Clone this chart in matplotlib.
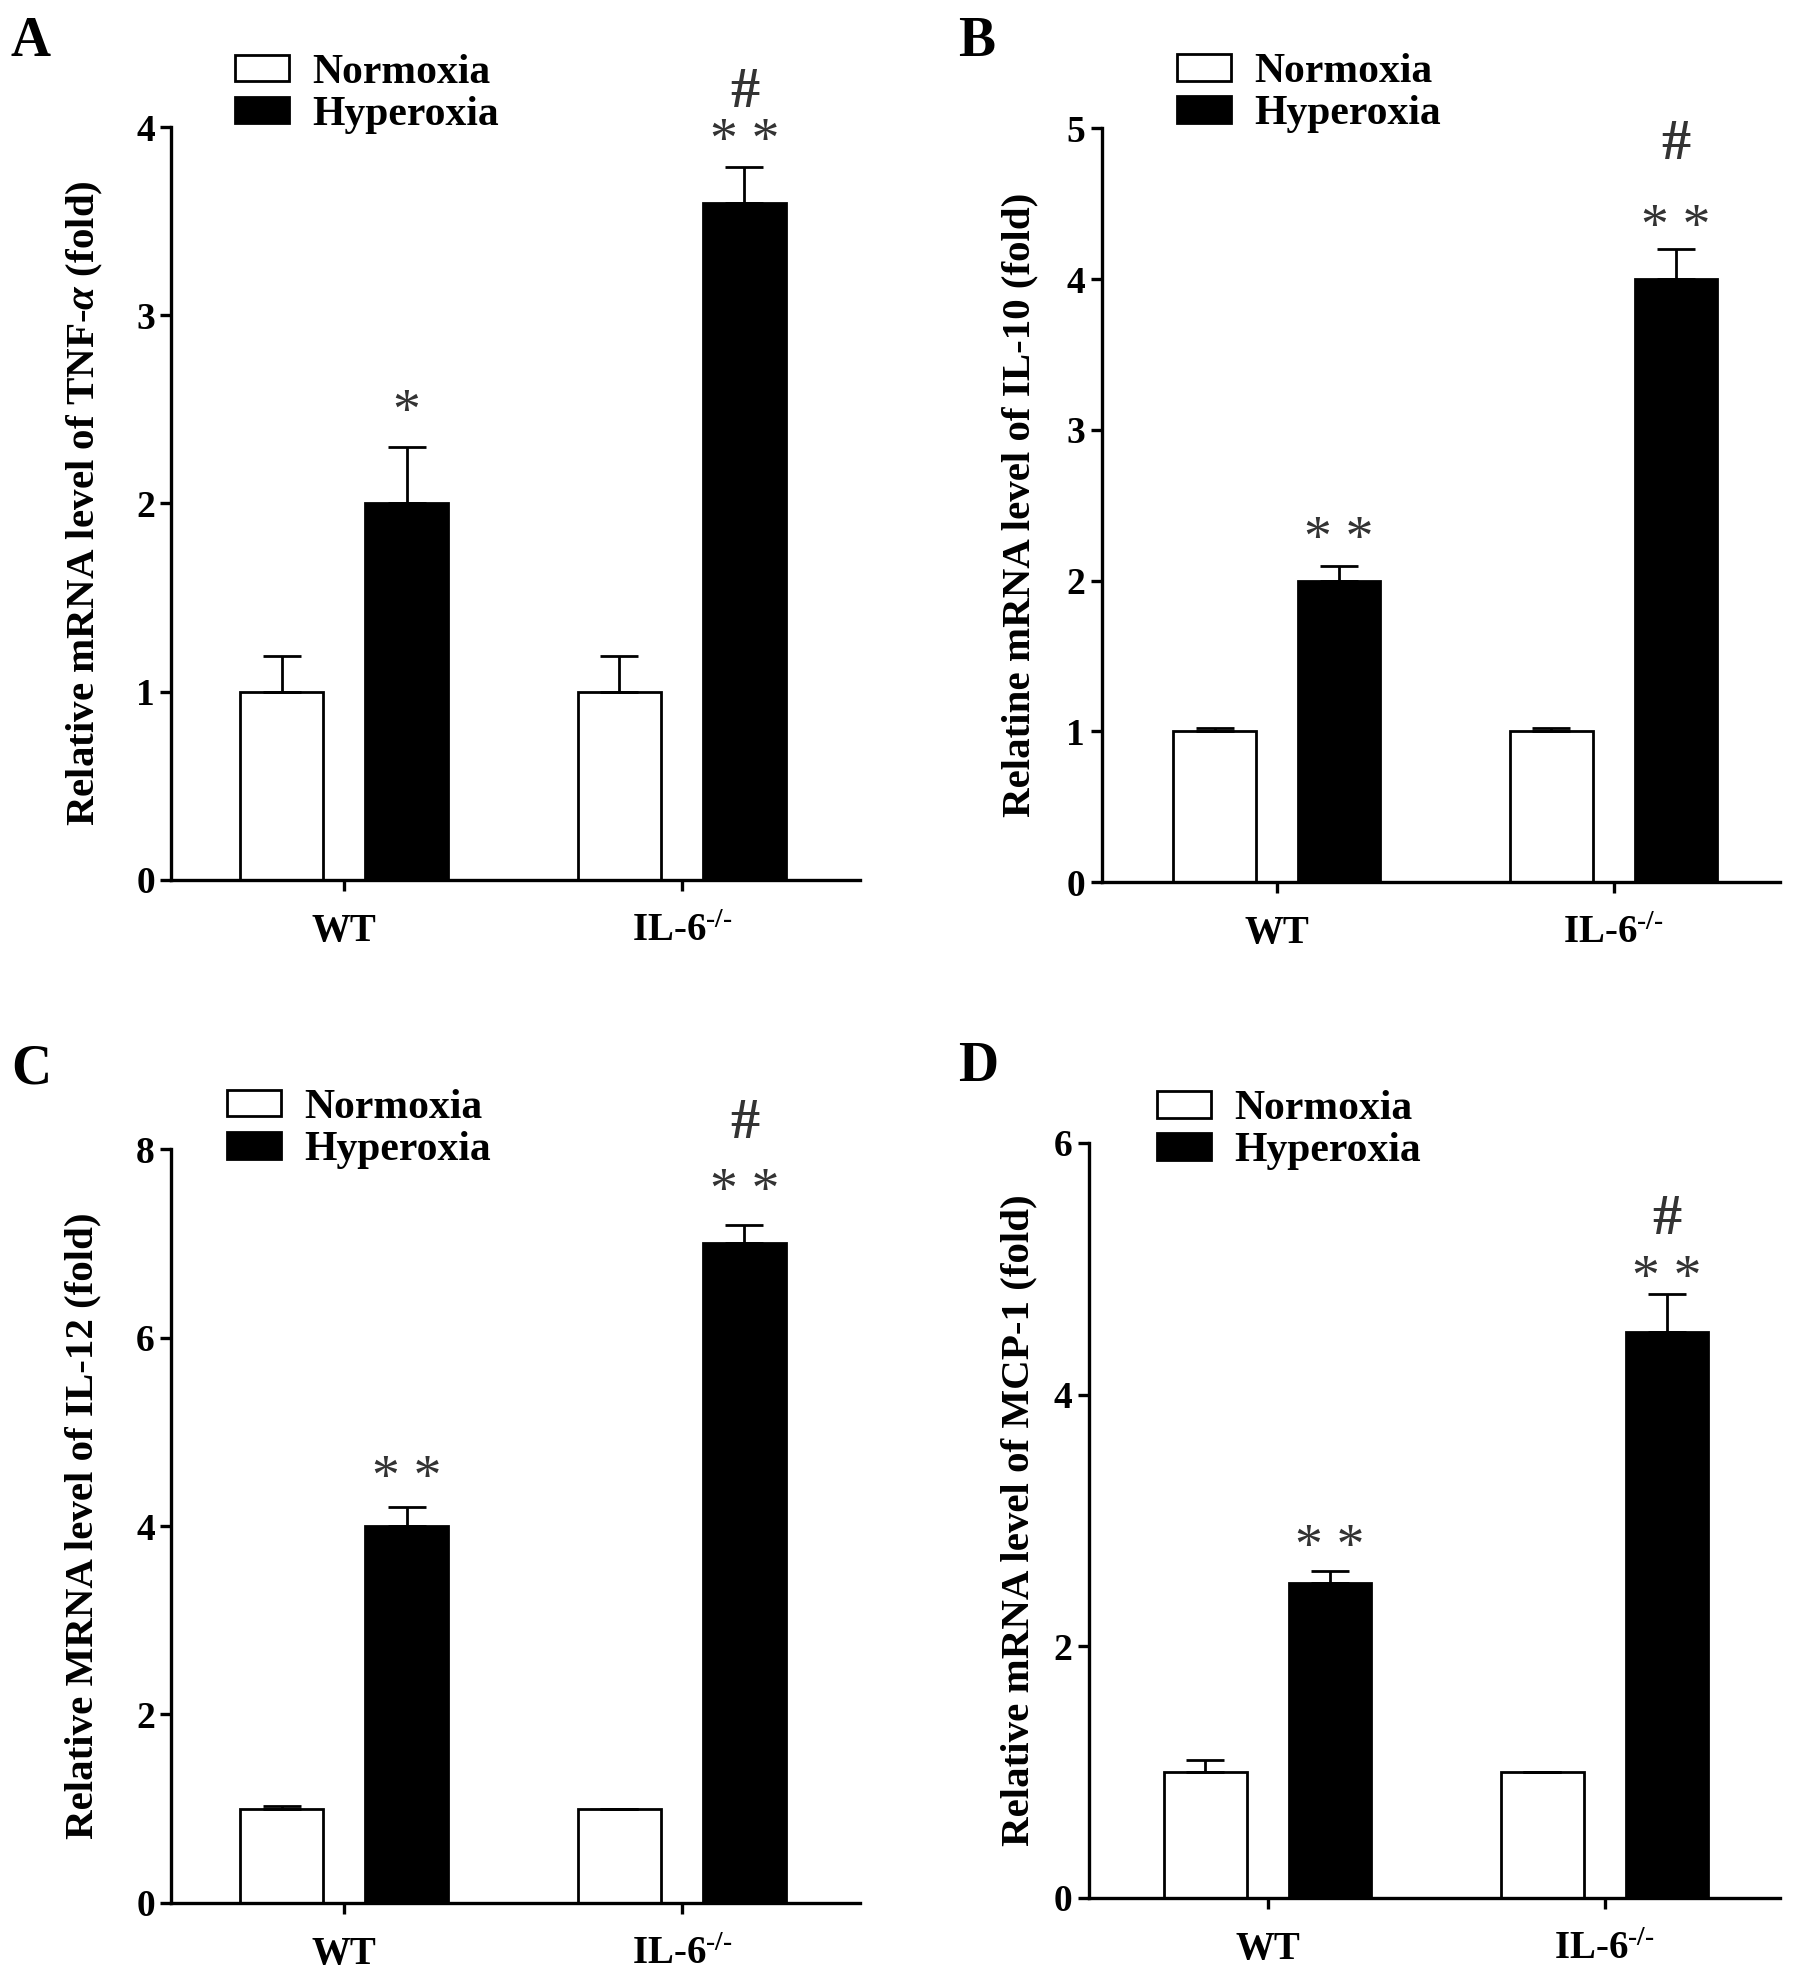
import numpy as np
import matplotlib
matplotlib.use('Agg')
import matplotlib.pyplot as plt
from matplotlib.patches import Patch

plt.rcParams['font.family'] = ['Liberation Serif', 'DejaVu Serif']
plt.rcParams['font.weight'] = 'bold'
plt.rcParams['mathtext.fontset'] = 'custom'
plt.rcParams['mathtext.rm'] = 'Liberation Serif'
plt.rcParams['mathtext.it'] = 'Liberation Serif:italic'
plt.rcParams['mathtext.bf'] = 'Liberation Serif:bold'

# ---------------- data ----------------
groups = ['WT', 'IL-6$^{\\rm \u2010/\u2010}$']
series = ['Normoxia', 'Hyperoxia']

tnf_norm = [1.0, 1.0]
tnf_norm_err = [0.19, 0.19]
tnf_hyp = [2.0, 3.6]
tnf_hyp_err = [0.30, 0.19]

il10_norm = [1.0, 1.0]
il10_norm_err = [0.02, 0.02]
il10_hyp = [2.0, 4.0]
il10_hyp_err = [0.10, 0.20]

il12_norm = [1.0, 1.0]
il12_norm_err = [0.03, 0.0]
il12_hyp = [4.0, 7.0]
il12_hyp_err = [0.20, 0.20]

mcp_norm = [1.0, 1.0]
mcp_norm_err = [0.10, 0.0]
mcp_hyp = [2.5, 4.5]
mcp_hyp_err = [0.10, 0.30]

# significance marks for Hyperoxia bars: (text, y value) lists per group
tnf_marks = [[('*', 2.40)], [('* *', 3.84), ('#', 4.11)]]
il10_marks = [[('* *', 2.17)], [('* *', 4.24), ('#', 4.80)]]
il12_marks = [[('* *', 4.34)], [('* *', 7.39), ('#', 8.12)]]
mcp_marks = [[('* *', 2.66)], [('* *', 4.80), ('#', 5.28)]]

ylabels = [r'Relative mRNA level of TNF-$\it{\alpha}$ (fold)',
           'Relatine mRNA level of IL-10 (fold)',
           'Relative MRNA level of IL-12 (fold)',
           'Relative mRNA level of MCP-1 (fold)']
yticks_list = [[0, 1, 2, 3, 4], [0, 1, 2, 3, 4, 5], [0, 2, 4, 6, 8], [0, 2, 4, 6]]
panel_letters = ['A', 'B', 'C', 'D']

# ---------------- layout ----------------
W, H = 1795, 1976
fig = plt.figure(figsize=(W / 100, H / 100), dpi=100)

rects = [
    [0.0955, 0.5548, 0.3834, 0.3808],
    [0.6138, 0.5536, 0.3778, 0.3814],
    [0.0955, 0.0370, 0.3834, 0.3814],
    [0.6067, 0.0395, 0.3849, 0.3821],
]
xlims = [(-0.511, 1.526), (-0.52, 1.494), (-0.511, 1.526), (-0.53, 1.52)]
legend_anchor = [(0.092, 1.098), (0.111, 1.100), (0.081, 1.080), (0.0985, 1.070)]
ylabel_x = [-0.097, -0.093, -0.102, -0.075]
letter_pos = [(0.006, 0.992), (0.534, 0.992), (0.006, 0.472), (0.534, 0.473)]

datasets = [
    (tnf_norm, tnf_norm_err, tnf_hyp, tnf_hyp_err, tnf_marks),
    (il10_norm, il10_norm_err, il10_hyp, il10_hyp_err, il10_marks),
    (il12_norm, il12_norm_err, il12_hyp, il12_hyp_err, il12_marks),
    (mcp_norm, mcp_norm_err, mcp_hyp, mcp_hyp_err, mcp_marks),
]

bw = 0.245
off = 0.185
lw_axis = 2.4
lw_bar = 2.0
mark_color = '#333333'

for i, (nv, ne, hv, he, marks) in enumerate(datasets):
    ax = fig.add_axes(rects[i])
    x = np.arange(len(groups))
    ax.bar(x - off, nv, width=bw, color='white', edgecolor='black', linewidth=lw_bar, zorder=2)
    ax.bar(x + off, hv, width=bw, color='black', edgecolor='black', linewidth=lw_bar, zorder=2)
    ax.errorbar(x - off, nv, yerr=[np.zeros(len(nv)), ne], fmt='none', ecolor='black',
                elinewidth=lw_bar, capsize=14, capthick=lw_bar, zorder=3)
    ax.errorbar(x + off, hv, yerr=[np.zeros(len(hv)), he], fmt='none', ecolor='black',
                elinewidth=lw_bar, capsize=14, capthick=lw_bar, zorder=1)
    for gi, gm in enumerate(marks):
        for txt, yv in gm:
            if txt == '#':
                ax.text(x[gi] + off, yv, txt, ha='center', va='baseline', fontsize=42,
                        fontweight='bold', color=mark_color, clip_on=False,
                        family=['Liberation Serif', 'DejaVu Serif'])
            else:
                ax.text(x[gi] + off, yv, txt, ha='center', va='baseline', fontsize=40,
                        fontweight='normal', color=mark_color, clip_on=False,
                        family=['Liberation Serif', 'DejaVu Serif'])
    yt = yticks_list[i]
    ax.set_ylim(0, yt[-1])
    ax.set_xlim(*xlims[i])
    ax.set_yticks(yt)
    ax.set_yticklabels([str(v) for v in yt])
    ax.set_xticks(x)
    ax.set_xticklabels(groups)
    for s in ['top', 'right']:
        ax.spines[s].set_visible(False)
    for s in ['left', 'bottom']:
        ax.spines[s].set_linewidth(lw_axis)
    ax.tick_params(axis='both', width=lw_axis, length=8, labelsize=27, pad=4)
    ax.tick_params(axis='x', pad=16, labelsize=28)
    ax.set_ylabel(ylabels[i], fontsize=29.5, fontweight='bold')
    ax.yaxis.set_label_coords(ylabel_x[i], 0.5)
    handles = [Patch(facecolor='white', edgecolor='black', linewidth=2.0),
               Patch(facecolor='black', edgecolor='black', linewidth=2.0)]
    ax.legend(handles, series, loc='upper left', bbox_to_anchor=legend_anchor[i],
              frameon=False, handlelength=1.3, handleheight=0.6,
              handletextpad=0.55, labelspacing=0.1, borderpad=0, borderaxespad=0,
              prop={'family': ['Liberation Serif'], 'weight': 'bold', 'size': 30})
    fig.text(letter_pos[i][0], letter_pos[i][1], panel_letters[i], fontsize=40,
             fontweight='bold', ha='left', va='top')

fig.savefig('out.png', dpi=100)
